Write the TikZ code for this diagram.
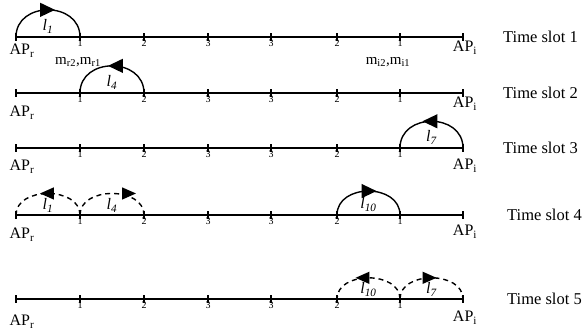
\documentclass[tikz,border=0pt]{standalone}
\usepackage{fontspec}
\setmainfont{Liberation Serif}
\usetikzlibrary{arrows.meta,calc,positioning,decorations.markings}
\tikzset{slotline/.style={line width=1.4pt},tickmark/.style={line width=1.5pt},
 tipshift/.store in=\tipshift,tipshift=6pt,
 tipsize/.store in=\tipsize,tipsize={length=15pt,width=14pt},
 hop/.style={line width=1.4pt,out=90,in=90,looseness=#1,postaction={decorate},
  decoration={markings,mark=at position .5 with {\arrow[xshift=\tipshift]{Triangle[\tipsize]}}}},
 hop/.default=1.45,
 dashedhop/.style={hop=1.15,dash pattern=on 5pt off 4pt,tipsize={length=14pt,width=12pt}},
 num/.style={font=\fontsize{10}{11}\selectfont,inner sep=1pt},
 aplabel/.style={font=\fontsize{16}{17}\selectfont,inner sep=0pt},
 mlabel/.style={font=\fontsize{15}{16}\selectfont,inner sep=0pt},
 slotlabel/.style={font=\fontsize{16.5}{18}\selectfont,inner sep=0pt,anchor=west},
 hoplabel/.style={font=\fontsize{16}{17}\selectfont\itshape,inner sep=0.5pt,anchor=south}}

\begin{document}
\begin{tikzpicture}[x=1pt,y=1pt]
\useasboundingbox (0,0) rectangle (584,333);
\foreach \r/\y/\dr/\di/\dt in {1/296/14/11/40,2/240/20/11/40,3/185/19/18/40,4/118/20/17/44,5/34/23/19/44} {
 \foreach \x [count=\k from 0] in {16,80,144,208,271,337,400,463}
  \coordinate (r\r p\k) at (\x,\y);
 \draw[slotline] (r\r p0) -- (r\r p7);
 \foreach \k in {0,...,7}
  \draw[tickmark] ($(r\r p\k)+(0,4)$) -- ($(r\r p\k)+(0,-4)$);
 \foreach \k/\n in {1/1,2/2,3/3,4/3,5/2,6/1}
  \node[num,below=2pt of r\r p\k] (r\r n\k) {\n};
 \node[aplabel] (apr\r) at ($(r\r p0)+(6,-\dr)$) {AP\textsubscript{r}};
 \node[aplabel] (api\r) at ($(r\r p7)+(2,-\di)$) {AP\textsubscript{i}};
 \node[slotlabel] (ts\r) at ($(r\r p7)+(\dt,0)$) {Time slot \r};
}
\node[mlabel] (mr) at (78,271) {m\textsubscript{r2},m\textsubscript{r1}};
\node[mlabel] (mi) at (388,271) {m\textsubscript{i2},m\textsubscript{i1}};
% time slot 1
\draw[hop,tipshift=7pt] (r1p0) to (r1p1);
\node[hoplabel] (h1) at ($(r1p0)!.5!(r1p1)+(0,3)$) {l\textsubscript{1}};
% time slot 2
\draw[hop,tipshift=4pt] (r2p2) to (r2p1);
\node[hoplabel] (h2) at ($(r2p1)!.5!(r2p2)+(0,3)$) {l\textsubscript{4}};
% time slot 3
\draw[hop,tipshift=9pt] (r3p7) to (r3p6);
\node[hoplabel] (h3) at ($(r3p6)!.5!(r3p7)+(0,3)$) {l\textsubscript{7}};
% time slot 4
\draw[dashedhop,tipshift=8pt] (r4p1) to (r4p0);
\node[hoplabel] (h4) at ($(r4p0)!.5!(r4p1)+(0,2)$) {l\textsubscript{1}};
\draw[dashedhop,tipshift=24pt] (r4p1) to (r4p2);
\node[hoplabel] (h5) at ($(r4p1)!.5!(r4p2)+(0,2)$) {l\textsubscript{4}};
\draw[hop=1.3,tipshift=8pt] (r4p5) to (r4p6);
\node[hoplabel] (h6) at ($(r4p5)!.5!(r4p6)+(0,3)$) {l\textsubscript{10}};
% time slot 5
\draw[dashedhop,tipshift=13pt] (r5p6) to (r5p5);
\node[hoplabel] (h7) at ($(r5p5)!.5!(r5p6)+(0,2)$) {l\textsubscript{10}};
\draw[dashedhop,tipshift=5pt] (r5p6) to (r5p7);
\node[hoplabel] (h8) at ($(r5p6)!.5!(r5p7)+(0,2)$) {l\textsubscript{7}};
\end{tikzpicture}
\end{document}
